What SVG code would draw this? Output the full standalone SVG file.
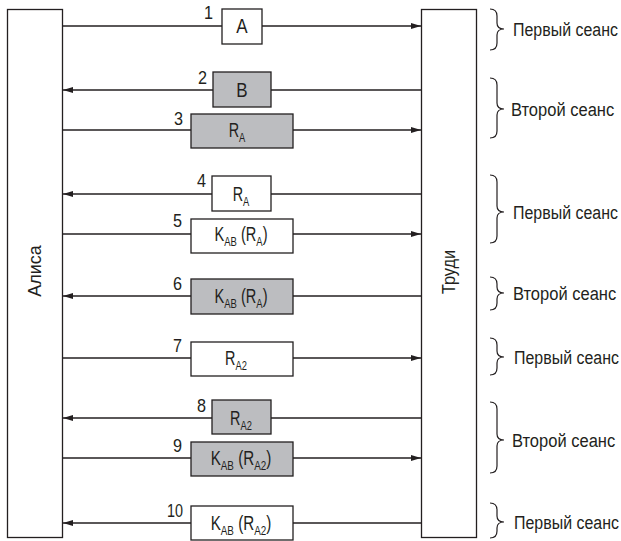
<svg xmlns="http://www.w3.org/2000/svg" width="621" height="541" viewBox="0 0 621 541">
<style>
text{font-family:"Liberation Sans",Arial,sans-serif;fill:#231f20}
.col{fill:#fff;stroke:#231f20;stroke-width:1.3}
.box{fill:#fff;stroke:#231f20;stroke-width:1.3}
.g{fill:#bcbdc0}
.ln{stroke:#231f20;stroke-width:1.4;fill:none}
.num{font-size:18px;text-anchor:end}
.bt{font-size:20px;text-anchor:middle}
.sub{font-size:13px}
.lab{font-size:19px}
.brace{fill:none;stroke:#231f20;stroke-width:1.2}
.big{font-size:19px;text-anchor:middle}
</style>
<defs>
<marker id="ah" viewBox="0 0 10 6" refX="10" refY="3" markerWidth="10" markerHeight="6" markerUnits="userSpaceOnUse" orient="auto">
<path d="M0,0 L10,3 L0,6 z" fill="#231f20"/>
</marker>
</defs>
<g id="alice">
<rect class="col" x="7.5" y="9.5" width="55" height="528"/>
<text class="big" transform="translate(41,271) rotate(-90) scale(0.95,1)">Алиса</text>
</g>
<g id="trudi">
<rect class="col" x="421.5" y="9.5" width="55" height="528"/>
<text class="big" transform="translate(455,272) rotate(-90) scale(0.86,1)">Труди</text>
</g>
<g id="connectors">
<line class="ln" x1="62" y1="26" x2="421" y2="26" marker-end="url(#ah)"/>
<line class="ln" x1="421" y1="90" x2="63" y2="90" marker-end="url(#ah)"/>
<line class="ln" x1="62" y1="130" x2="421" y2="130" marker-end="url(#ah)"/>
<line class="ln" x1="421" y1="194" x2="63" y2="194" marker-end="url(#ah)"/>
<line class="ln" x1="62" y1="234" x2="421" y2="234" marker-end="url(#ah)"/>
<line class="ln" x1="421" y1="296" x2="63" y2="296" marker-end="url(#ah)"/>
<line class="ln" x1="62" y1="358" x2="421" y2="358" marker-end="url(#ah)"/>
<line class="ln" x1="421" y1="418" x2="63" y2="418" marker-end="url(#ah)"/>
<line class="ln" x1="62" y1="458" x2="421" y2="458" marker-end="url(#ah)"/>
<line class="ln" x1="421" y1="523" x2="63" y2="523" marker-end="url(#ah)"/>
</g>
<g id="m1">
<rect class="box" x="222" y="9" width="40" height="35"/>
<text class="bt" transform="translate(242,33) scale(0.85,1)">A</text>
<text class="num" transform="translate(213,19) scale(0.9,1)">1</text>
</g>
<g id="m2">
<rect class="box g" x="213" y="72" width="58" height="35"/>
<text class="bt" transform="translate(242,97) scale(0.85,1)">B</text>
<text class="num" transform="translate(207,84) scale(0.9,1)">2</text>
</g>
<g id="m3">
<rect class="box g" x="191" y="114" width="102" height="34"/>
<text class="bt" transform="translate(237,137) scale(0.72,1)">R<tspan class="sub" dy="5">A</tspan></text>
<text class="num" transform="translate(183,125) scale(0.9,1)">3</text>
</g>
<g id="m4">
<rect class="box" x="212" y="176" width="59" height="35"/>
<text class="bt" transform="translate(241,201) scale(0.72,1)">R<tspan class="sub" dy="5">A</tspan></text>
<text class="num" transform="translate(206,187) scale(0.9,1)">4</text>
</g>
<g id="m5">
<rect class="box" x="191" y="219" width="102" height="34"/>
<text class="bt" transform="translate(241,241) scale(0.73,1)">K<tspan class="sub" dy="5">AB</tspan><tspan dy="-5"> (R</tspan><tspan class="sub" dy="5">A</tspan><tspan dy="-5">)</tspan></text>
<text class="num" transform="translate(182,227) scale(0.9,1)">5</text>
</g>
<g id="m6">
<rect class="box g" x="191" y="279" width="102" height="35"/>
<text class="bt" transform="translate(241,303) scale(0.73,1)">K<tspan class="sub" dy="5">AB</tspan><tspan dy="-5"> (R</tspan><tspan class="sub" dy="5">A</tspan><tspan dy="-5">)</tspan></text>
<text class="num" transform="translate(182,290) scale(0.9,1)">6</text>
</g>
<g id="m7">
<rect class="box" x="191" y="342" width="102" height="34"/>
<text class="bt" transform="translate(236,365) scale(0.72,1)">R<tspan class="sub" dy="5">A2</tspan></text>
<text class="num" transform="translate(182,352) scale(0.9,1)">7</text>
</g>
<g id="m8">
<rect class="box g" x="212" y="400" width="59" height="34"/>
<text class="bt" transform="translate(241,425) scale(0.72,1)">R<tspan class="sub" dy="5">A2</tspan></text>
<text class="num" transform="translate(206,412) scale(0.9,1)">8</text>
</g>
<g id="m9">
<rect class="box g" x="191" y="442" width="102" height="34"/>
<text class="bt" transform="translate(241,465) scale(0.76,1)">K<tspan class="sub" dy="5">AB</tspan><tspan dy="-5"> (R</tspan><tspan class="sub" dy="5">A2</tspan><tspan dy="-5">)</tspan></text>
<text class="num" transform="translate(182,452) scale(0.9,1)">9</text>
</g>
<g id="m10">
<rect class="box" x="191" y="506" width="102" height="34"/>
<text class="bt" transform="translate(241,530) scale(0.76,1)">K<tspan class="sub" dy="5">AB</tspan><tspan dy="-5"> (R</tspan><tspan class="sub" dy="5">A2</tspan><tspan dy="-5">)</tspan></text>
<text class="num" transform="translate(183,517) scale(0.8,1)">10</text>
</g>
<g id="sessions">
<path class="brace" d="M490,9 Q497,9 497,16 L497,23 Q497,29 504,29 Q497,29 497,35 L497,43 Q497,50 490,50"/>
<text class="lab" transform="translate(513,36) scale(0.84,1)">Первый сеанс</text>
<path class="brace" d="M490,78 Q497,78 497,85 L497,103 Q497,109 504,109 Q497,109 497,115 L497,131 Q497,138 490,138"/>
<text class="lab" transform="translate(511,116) scale(0.87,1)">Второй сеанс</text>
<path class="brace" d="M490,175 Q497,175 497,182 L497,206 Q497,212 504,212 Q497,212 497,218 L497,236 Q497,243 490,243"/>
<text class="lab" transform="translate(513,219) scale(0.84,1)">Первый сеанс</text>
<path class="brace" d="M490,277 Q497,277 497,284 L497,287 Q497,293 504,293 Q497,293 497,299 L497,303 Q497,310 490,310"/>
<text class="lab" transform="translate(513,300) scale(0.87,1)">Второй сеанс</text>
<path class="brace" d="M490,338 Q497,338 497,345 L497,351 Q497,357 504,357 Q497,357 497,363 L497,368 Q497,375 490,375"/>
<text class="lab" transform="translate(514,364) scale(0.84,1)">Первый сеанс</text>
<path class="brace" d="M490,402 Q497,402 497,409 L497,434 Q497,440 504,440 Q497,440 497,446 L497,466 Q497,473 490,473"/>
<text class="lab" transform="translate(512,447) scale(0.87,1)">Второй сеанс</text>
<path class="brace" d="M490,503 Q497,503 497,510 L497,516 Q497,522 504,522 Q497,522 497,528 L497,531 Q497,538 490,538"/>
<text class="lab" transform="translate(514,529) scale(0.84,1)">Первый сеанс</text>
</g>
</svg>
